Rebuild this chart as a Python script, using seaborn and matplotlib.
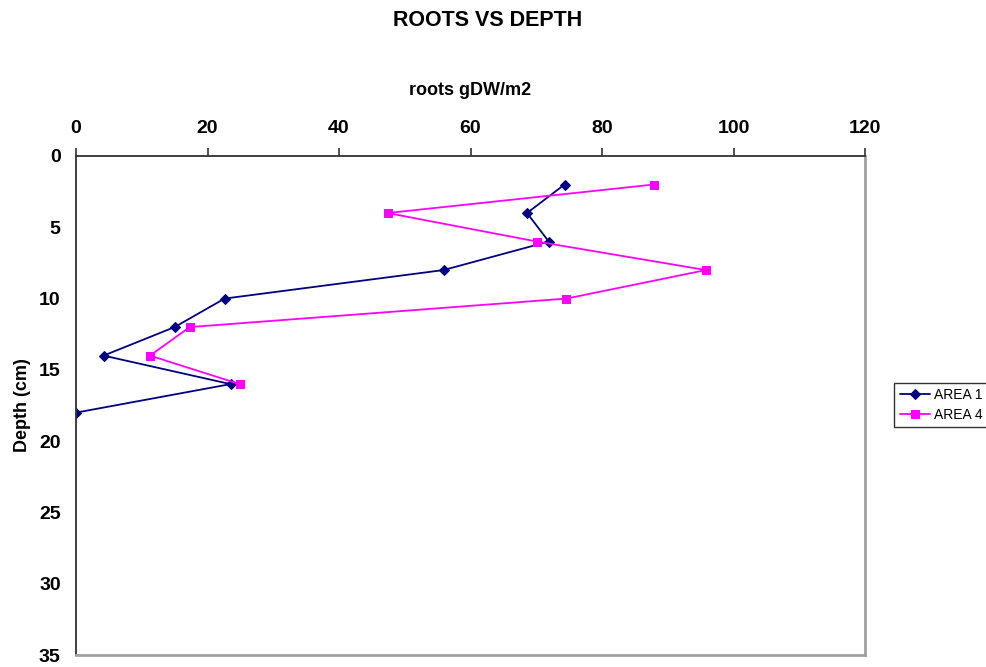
import matplotlib
matplotlib.use("Agg")
import matplotlib.pyplot as plt
import seaborn as sns
import pandas as pd

depth_area1 = [2, 4, 6, 8, 10, 12, 14, 16, 18]
roots_area1 = [74.3, 68.6, 71.9, 55.9, 22.6, 15.0, 4.2, 23.5, 0.0]
depth_area4 = [2, 4, 6, 8, 10, 12, 14, 16]
roots_area4 = [87.9, 47.4, 70.1, 95.8, 74.6, 17.3, 11.25, 24.9]
x_ticks = [0, 20, 40, 60, 80, 100, 120]
y_ticks = [0, 5, 10, 15, 20, 25, 30, 35]

sns.set_theme(style="white")
plt.rcParams['font.family'] = ['Liberation Sans', 'DejaVu Sans']
plt.rcParams['text.color'] = 'black'
plt.rcParams['axes.labelcolor'] = 'black'
plt.rcParams['xtick.color'] = 'black'
plt.rcParams['ytick.color'] = 'black'

df1 = pd.DataFrame({"roots": roots_area1, "depth": depth_area1})
df4 = pd.DataFrame({"roots": roots_area4, "depth": depth_area4})

fig = plt.figure(figsize=(9.87, 6.67), dpi=100)
ax = fig.add_axes([76/987, 1-655/667, (865-76)/987, (655-156)/667])

sns.lineplot(data=df1, x="roots", y="depth", sort=False, estimator=None,
             color="#000080", marker="D", markersize=5, linewidth=1.3,
             markeredgecolor="#000080", label="AREA 1", ax=ax)
sns.lineplot(data=df4, x="roots", y="depth", sort=False, estimator=None,
             color="#FF00FF", marker="s", markersize=6, linewidth=1.3,
             markeredgecolor="#FF00FF", label="AREA 4", ax=ax)

ax.set_xlim(0, 120)
ax.set_ylim(35, 0)
ax.set_xticks(x_ticks)
ax.set_yticks(y_ticks)
ax.xaxis.tick_top()
ax.xaxis.set_label_position('top')
ax.tick_params(axis='both', which='major', direction='out', length=6, width=1.2,
               color='#303030', labelsize=14, pad=5)
for lab in ax.get_xticklabels() + ax.get_yticklabels():
    lab.set_fontweight('bold')
ax.tick_params(axis='x', pad=8)

ax.set_xlabel("roots gDW/m2", fontsize=13, fontweight='bold', labelpad=18)
ax.set_ylabel("Depth (cm)", fontsize=13, fontweight='bold', labelpad=6)

for s in ['top', 'left']:
    ax.spines[s].set_color('#303030')
    ax.spines[s].set_linewidth(1.3)
for s in ['right', 'bottom']:
    ax.spines[s].set_color('#a0a0a0')
    ax.spines[s].set_linewidth(2)
    ax.spines[s].set_visible(True)

fig.text(488/987, 1-20/667, "ROOTS VS DEPTH", ha='center', va='center',
         fontsize=15.5, fontweight='bold')

leg = ax.legend(loc='center left', bbox_to_anchor=(894/987, 1-405/667),
                bbox_transform=fig.transFigure, frameon=True, fancybox=False,
                fontsize=10, handlelength=2.2, borderpad=0.4, labelspacing=0.4,
                handletextpad=0.3, borderaxespad=0)
leg.get_frame().set_edgecolor('black')
leg.get_frame().set_linewidth(1)

fig.savefig("out.png", dpi=100)
